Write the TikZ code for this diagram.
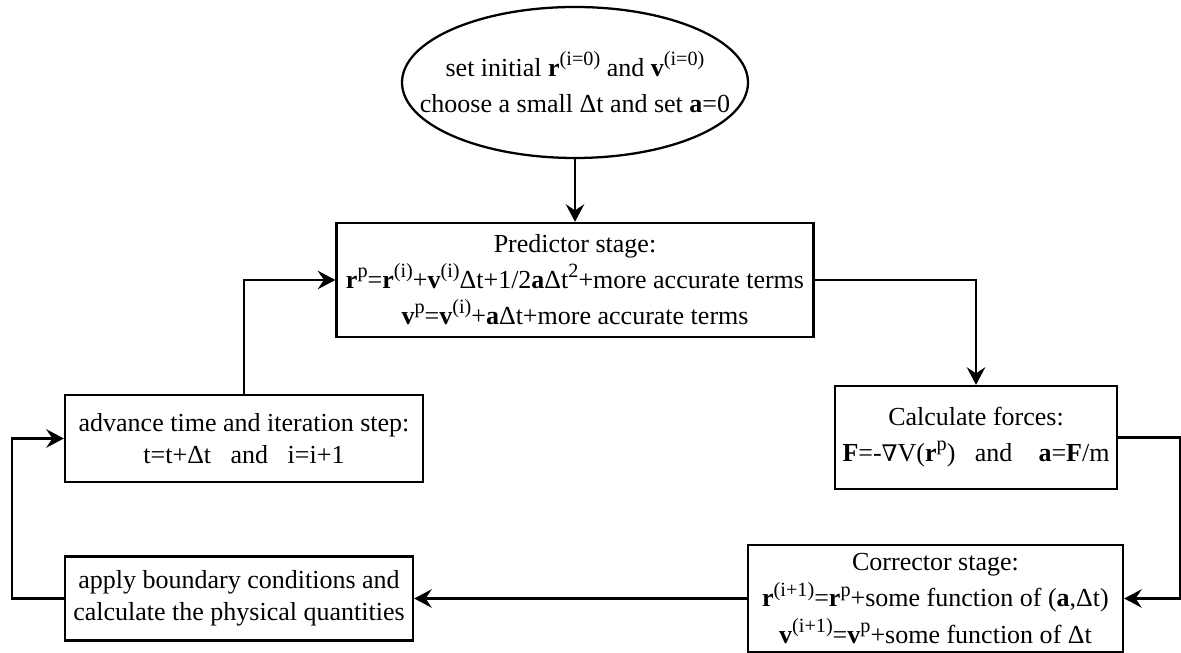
\documentclass[tikz,border=0pt]{standalone}
\usepackage{fontspec}
\setmainfont{Liberation Serif}
\newfontfamily\nablafont{DejaVu Serif}
\usetikzlibrary{arrows.meta,shapes.geometric}
\newcommand{\supx}[1]{\raisebox{0.42em}{\fontsize{11.5}{11.5}\selectfont #1}}

\begin{document}
\begin{tikzpicture}[line width=1.3pt,
  txt/.style={align=center,inner sep=0pt,font=\fontsize{14.8}{20.5}\selectfont},
  txtb/.style={align=center,inner sep=0pt,font=\fontsize{14.8}{18.2}\selectfont},
  box/.style={draw,rectangle},
  oval/.style={draw,ellipse,inner sep=0pt},
  arr/.style={-{Stealth[length=10pt,width=10.5pt,inset=3.5pt]}}]
\useasboundingbox (0,0) rectangle (23.62,13.06);

\node[oval,minimum width=6.92cm,minimum height=3.02cm,
  label={[txt]center:{set initial \textbf{r}\supx{(i=0)} and \textbf{v}\supx{(i=0)}\\
  choose a small Δt and set \textbf{a}=0}}] (E) at (11.5,11.41) {};

\node[box,txt,minimum width=9.54cm,minimum height=2.28cm] (P) at (11.5,7.46)
  {Predictor stage:\\
  \textbf{r}\supx{p}=\textbf{r}\supx{(i)}+\textbf{v}\supx{(i)}Δt+1/2\textbf{a}Δt\supx{2}+more accurate terms\\
  \textbf{v}\supx{p}=\textbf{v}\supx{(i)}+\textbf{a}Δt+more accurate terms};

\node[box,txt,minimum width=5.64cm,minimum height=2.06cm] (F) at (19.52,4.31)
  {Calculate forces:\\
  \textbf{F}=-{\nablafont\fontsize{13}{13}\selectfont ∇}V(\textbf{r}\supx{p})\ \ \ and\ \ \ \ \textbf{a}=\textbf{F}/m};

\node[box,txt,minimum width=7.5cm,minimum height=2.14cm] (C) at (18.71,1.09)
  {Corrector stage:\\
  \textbf{r}\supx{(i+1)}=\textbf{r}\supx{p}+some function of (\textbf{a},Δt)\\
  \textbf{v}\supx{(i+1)}=\textbf{v}\supx{p}+some function of Δt};

\node[box,txtb,minimum width=6.96cm,minimum height=1.68cm] (A) at (4.78,1.09)
  {apply boundary conditions and\\calculate the physical quantities};

\node[box,txtb,minimum width=7.16cm,minimum height=1.74cm] (T) at (4.88,4.29)
  {advance time and iteration step:\\t=t+Δt\ \ \ and\ \ \ i=i+1};

\coordinate (R) at (23.61,1.09);
\coordinate (L) at (0.24,1.09);

\draw[arr] (E.south) -- (P.north);
\draw[arr] (P.east) -| (F.north);
\draw[arr] (F.east) -| (R) -- (C.east);
\draw[arr] (C.west) -- (A.east);
\draw[arr] (A.west) -- (L) |- (T.west);
\draw[arr] (T.north) |- (P.west);

\end{tikzpicture}
\end{document}
